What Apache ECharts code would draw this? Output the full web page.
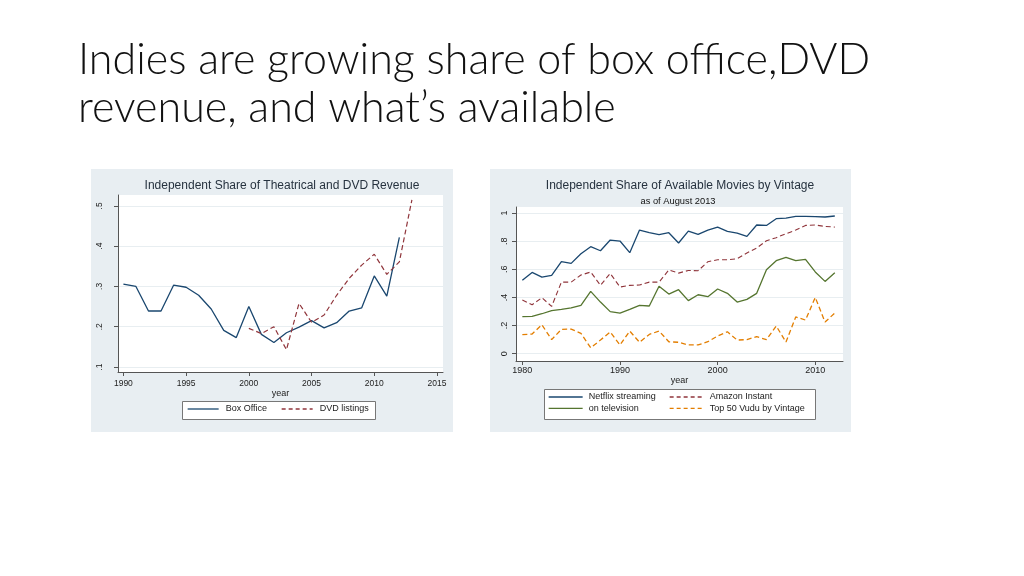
<!DOCTYPE html>
<html>
<head>
<meta charset="utf-8">
<title>Indies share</title>
<script src="https://cdn.jsdelivr.net/npm/echarts@6/dist/echarts.min.js"></script>
<style>
  html, body { margin: 0; padding: 0; background: #fff; }
  #main { width: 1024px; height: 576px; }
</style>
</head>
<body>
<div id="main"></div>
<script>
// left chart: independent share of theatrical and DVD revenue
var boxYears = [1990, 1991, 1992, 1993, 1994, 1995, 1996, 1997, 1998, 1999, 2000, 2001,
  2002, 2003, 2004, 2005, 2006, 2007, 2008, 2009, 2010, 2011, 2012];
var boxOffice = [0.306, 0.300, 0.239, 0.239, 0.303, 0.298, 0.278, 0.244, 0.191, 0.173, 0.250, 0.181,
  0.161, 0.185, 0.199, 0.215, 0.197, 0.210, 0.239, 0.247, 0.326, 0.276, 0.422];
var dvdYears = [2000, 2001, 2002, 2003, 2004, 2005, 2006, 2007, 2008, 2009, 2010, 2011, 2012, 2013];
var dvdListings = [0.196, 0.183, 0.200, 0.143, 0.258, 0.211, 0.229, 0.278, 0.320, 0.353, 0.380, 0.330, 0.361, 0.515];

// right chart: share of available movies by vintage
var vintageYears = [1980, 1981, 1982, 1983, 1984, 1985, 1986, 1987, 1988, 1989, 1990, 1991,
  1992, 1993, 1994, 1995, 1996, 1997, 1998, 1999, 2000, 2001, 2002, 2003,
  2004, 2005, 2006, 2007, 2008, 2009, 2010, 2011, 2012];
var netflix = [0.522, 0.578, 0.545, 0.557, 0.654, 0.642, 0.711, 0.761, 0.732, 0.808, 0.801, 0.718,
  0.879, 0.860, 0.846, 0.860, 0.787, 0.872, 0.848, 0.879, 0.900, 0.870, 0.858, 0.834,
  0.915, 0.912, 0.960, 0.964, 0.976, 0.976, 0.974, 0.972, 0.979];
var amazon = [0.382, 0.348, 0.398, 0.336, 0.509, 0.509, 0.559, 0.581, 0.486, 0.571, 0.474, 0.486,
  0.488, 0.509, 0.509, 0.595, 0.573, 0.592, 0.590, 0.654, 0.668, 0.668, 0.675, 0.716,
  0.751, 0.803, 0.825, 0.853, 0.879, 0.912, 0.915, 0.905, 0.900];
var television = [0.263, 0.265, 0.284, 0.306, 0.315, 0.325, 0.344, 0.443, 0.367, 0.299, 0.289, 0.315,
  0.344, 0.339, 0.479, 0.424, 0.455, 0.377, 0.419, 0.405, 0.460, 0.429, 0.367, 0.386,
  0.429, 0.597, 0.661, 0.685, 0.661, 0.671, 0.581, 0.514, 0.576];
var vudu = [0.135, 0.140, 0.206, 0.100, 0.173, 0.175, 0.145, 0.042, 0.097, 0.154, 0.062, 0.161,
  0.081, 0.137, 0.161, 0.085, 0.081, 0.062, 0.062, 0.085, 0.126, 0.156, 0.097, 0.100,
  0.121, 0.100, 0.197, 0.083, 0.261, 0.239, 0.400, 0.225, 0.289];

// tick labels
var leftXTicks = [1990, 1995, 2000, 2005, 2010, 2015];
var leftYTicks = [0.1, 0.2, 0.3, 0.4, 0.5];
var rightXTicks = [1980, 1990, 2000, 2010];
var rightYTicks = [0, 0.2, 0.4, 0.6, 0.8, 1];

var NAVY = '#1a476f', MAROON = '#90353b', GREEN = '#55752f', ORANGE = '#e37e00';
var FONT = 'Liberation Sans, Arial, sans-serif';
var TXT = '#222';

function pairs(xs, ys) {
  return xs.map(function (x, i) { return [x, ys[i]]; });
}
function stataNum(v) {
  var s = String(+v.toFixed(2));
  return s.replace(/^0\./, '.');
}

function xAxisOpt(gridIndex, min, max, ticks, fontSize, margin, nameGap) {
  return {
    type: 'value', gridIndex: gridIndex, min: min, max: max,
    name: 'year', nameLocation: 'middle', nameGap: nameGap,
    nameTextStyle: { fontFamily: FONT, fontSize: 9, color: TXT },
    axisLine: { show: true, onZero: false, lineStyle: { color: '#555', width: 1 } },
    axisTick: { show: true, length: 4, customValues: ticks, lineStyle: { color: '#555' } },
    axisLabel: { customValues: ticks, fontFamily: FONT, fontSize: fontSize, color: TXT, margin: margin,
      formatter: function (v) { return String(v); } },
    splitLine: { show: false }
  };
}
function yAxisOpt(gridIndex, min, max, ticks, fontSize, margin) {
  return {
    type: 'value', gridIndex: gridIndex, min: min, max: max,
    axisLine: { show: true, onZero: false, lineStyle: { color: '#555', width: 1 } },
    axisTick: { show: true, length: 4, customValues: ticks, lineStyle: { color: '#555' } },
    axisLabel: { customValues: ticks, rotate: 90, fontFamily: FONT, fontSize: fontSize, color: TXT,
      margin: margin, formatter: stataNum },
    splitLine: { show: true, lineStyle: { color: '#e8eef1', width: 1 } }
  };
}
function lineSeries(name, xi, data, color, dashed, width) {
  return {
    name: name, type: 'line', xAxisIndex: xi, yAxisIndex: xi, data: data,
    symbol: 'none', smooth: false, animation: false,
    lineStyle: { color: color, width: width, type: dashed ? [5, 3] : 'solid' },
    itemStyle: { color: color }
  };
}

// legend entries: thin line sample in the series colour, no marker
function legendItem(name, color, dashed) {
  return {
    name: name,
    itemStyle: { color: 'transparent', borderWidth: 0, opacity: 0 },
    lineStyle: { color: color, width: 1.3, type: dashed ? [4, 3] : 'solid' }
  };
}

var chart = echarts.init(document.getElementById('main'));

var option = {
  backgroundColor: '#fff',
  animation: false,
  graphic: [
    // slide title
    { type: 'text', x: 78, y: 60, z: 10, style: { text: 'Indies are growing share of box office,DVD',
      fontFamily: 'Lato, sans-serif', fontWeight: 300, fontSize: 43, fill: '#111', verticalAlign: 'middle' } },
    { type: 'text', x: 78, y: 108, z: 10, style: { text: 'revenue, and what\u2019s available',
      fontFamily: 'Lato, sans-serif', fontWeight: 300, fontSize: 43, fill: '#111', verticalAlign: 'middle' } },
    // panels
    { type: 'rect', z: -10, shape: { x: 91, y: 169, width: 362, height: 263 }, style: { fill: '#e8eef2' } },
    { type: 'rect', z: -10, shape: { x: 490, y: 169, width: 361, height: 263 }, style: { fill: '#e8eef2' } },
    // chart titles
    { type: 'text', x: 282, y: 186, z: 10, style: { text: 'Independent Share of Theatrical and DVD Revenue',
      fontFamily: FONT, fontSize: 12, fill: '#26323f', align: 'center', verticalAlign: 'middle' } },
    { type: 'text', x: 680, y: 186, z: 10, style: { text: 'Independent Share of Available Movies by Vintage',
      fontFamily: FONT, fontSize: 12, fill: '#26323f', align: 'center', verticalAlign: 'middle' } },
    { type: 'text', x: 678, y: 201, z: 10, style: { text: 'as of August 2013',
      fontFamily: FONT, fontSize: 9.3, fill: '#111', align: 'center', verticalAlign: 'middle' } },
    // legend boxes
    { type: 'rect', z: 1, shape: { x: 182.5, y: 401.5, width: 193, height: 18 }, style: { fill: '#fff', stroke: '#777', lineWidth: 1 } },
    { type: 'rect', z: 1, shape: { x: 544.5, y: 389.5, width: 271, height: 30 }, style: { fill: '#fff', stroke: '#777', lineWidth: 1 } }
  ],
  grid: [
    { left: 118, top: 195, width: 325, height: 177, show: true, backgroundColor: '#fff', borderWidth: 0 },
    { left: 516, top: 207, width: 327, height: 154, show: true, backgroundColor: '#fff', borderWidth: 0 }
  ],
  xAxis: [
    xAxisOpt(0, 1989.57, 2015.48, leftXTicks, 8.5, 7, 17),
    xAxisOpt(1, 1979.35, 2012.84, rightXTicks, 9, 5, 15)
  ],
  yAxis: [
    yAxisOpt(0, 0.0876, 0.527, leftYTicks, 8.5, 14),
    yAxisOpt(1, -0.052, 1.043, rightYTicks, 9, 7)
  ],
  legend: [
    { data: [legendItem('Box Office', NAVY, false), legendItem('DVD listings', MAROON, true)],
      left: 187, top: 404.5, padding: 0, z: 5, itemWidth: 31, itemHeight: 10, itemGap: 14,
      textStyle: { fontFamily: FONT, fontSize: 9, color: TXT, padding: [0, 0, 0, 2] } },
    { data: [legendItem('Netflix streaming', NAVY, false), legendItem('on television', GREEN, false)],
      orient: 'vertical', left: 548, top: 392.5, padding: 0, z: 5, itemWidth: 34, itemHeight: 10, itemGap: 2.4,
      textStyle: { fontFamily: FONT, fontSize: 9, color: TXT, padding: [0, 0, 0, 1] } },
    { data: [legendItem('Amazon Instant', MAROON, true), legendItem('Top 50 Vudu by Vintage', ORANGE, true)],
      orient: 'vertical', left: 669, top: 392.5, padding: 0, z: 5, itemWidth: 34, itemHeight: 10, itemGap: 2.4,
      textStyle: { fontFamily: FONT, fontSize: 9, color: TXT, padding: [0, 0, 0, 1] } }
  ],
  series: [
    lineSeries('Box Office', 0, pairs(boxYears, boxOffice), NAVY, false, 1.3),
    lineSeries('DVD listings', 0, pairs(dvdYears, dvdListings), MAROON, true, 1.2),
    lineSeries('Netflix streaming', 1, pairs(vintageYears, netflix), NAVY, false, 1.3),
    lineSeries('Amazon Instant', 1, pairs(vintageYears, amazon), MAROON, true, 1.1),
    lineSeries('on television', 1, pairs(vintageYears, television), GREEN, false, 1.3),
    lineSeries('Top 50 Vudu by Vintage', 1, pairs(vintageYears, vudu), ORANGE, true, 1.3)
  ]
};

chart.setOption(option);
</script>
</body>
</html>
